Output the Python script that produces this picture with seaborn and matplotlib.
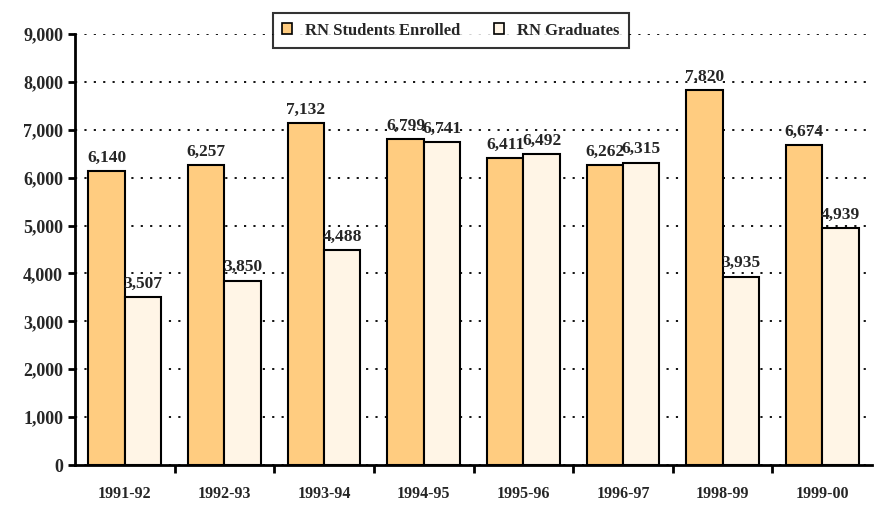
import numpy as np
import pandas as pd
import seaborn as sns
import matplotlib.pyplot as plt
from matplotlib.ticker import FuncFormatter, FixedLocator

sns.set_style("white")
plt.rcParams['font.family'] = ['Liberation Serif', 'DejaVu Serif']
plt.rcParams['font.weight'] = 'bold'

years = ["1991-92", "1992-93", "1993-94", "1994-95", "1995-96", "1996-97", "1998-99", "1999-00"]
enrolled = [6140, 6257, 7132, 6799, 6411, 6262, 7820, 6674]
graduates = [3507, 3850, 4488, 6741, 6492, 6315, 3935, 4939]
series = ["RN Students Enrolled", "RN Graduates"]
colors = ["#FFCC80", "#FFF5E6"]

df = pd.DataFrame({
    "year": years * 2,
    "value": enrolled + graduates,
    "series": [series[0]] * len(years) + [series[1]] * len(years),
})

fig = plt.figure(figsize=(8.75, 5.05), dpi=100)
ax = fig.add_axes([0.0857, 0.0792, 0.911, 0.8535])

sns.barplot(data=df, x="year", y="value", hue="series", palette=colors, saturation=1,
            width=0.73, edgecolor="black", linewidth=1.5, ax=ax, legend=False)

ax.set_ylim(0, 9000)
ax.set_xlim(-0.5, len(years) - 0.5)
ax.set_yticks(np.arange(0, 9001, 1000))
ax.yaxis.set_major_formatter(FuncFormatter(lambda v, p: f"{int(v):,}"))
ax.yaxis.grid(True, linestyle=(0, (1.2, 4)), color="black", linewidth=1.3)
ax.set_axisbelow(True)

for c in ax.containers:
    ax.bar_label(c, labels=[f"{int(v):,}" for v in c.datavalues], padding=4,
                 fontsize=12.5, fontweight="bold")

ax.set_xlabel("")
ax.set_ylabel("")
for s in ["top", "right"]:
    ax.spines[s].set_visible(False)
for s in ["left", "bottom"]:
    ax.spines[s].set_linewidth(2)
    ax.spines[s].set_color("black")

ax.xaxis.set_minor_locator(FixedLocator(np.arange(0.5, len(years) - 0.5, 1)))
ax.tick_params(axis="x", which="minor", length=6, width=2, direction="out", color="black")
ax.tick_params(axis="y", length=5, width=2, direction="out", color="black", labelsize=13)
ax.tick_params(bottom=True, left=True, which="both")
ax.tick_params(axis="x", which="major", length=0, pad=15, labelsize=11.5)
for lab in ax.get_xticklabels() + ax.get_yticklabels():
    lab.set_fontweight("bold")

handles = [plt.Rectangle((0, 0), 1, 1, facecolor=col, edgecolor="black", linewidth=1.2)
           for col in colors]
leg = fig.legend(handles, series, loc="upper center", bbox_to_anchor=(0.515, 0.99),
                 ncol=2, frameon=True, fancybox=False, edgecolor="black",
                 handlelength=0.6, handleheight=0.6, columnspacing=2.0,
                 prop={"weight": "bold", "size": 12}, borderpad=0.55)
leg.get_frame().set_linewidth(1.5)

fig.savefig("out.png", dpi=100)
